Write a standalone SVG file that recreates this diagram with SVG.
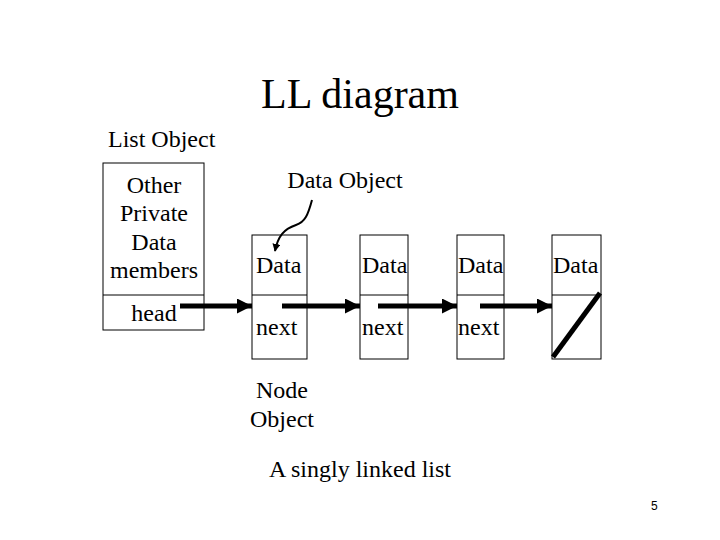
<svg xmlns="http://www.w3.org/2000/svg" width="720" height="540" viewBox="0 0 720 540">
<style>
text{font-family:"Liberation Serif","Times New Roman",serif;fill:#000;font-size:24px}
.c{text-anchor:middle}
.box{fill:#fff;stroke:#000;stroke-width:1}
.arr{stroke:#000;stroke-width:5;fill:none}
</style>
<defs>
<marker id="ah" viewBox="0 0 10 10" refX="10" refY="5" markerWidth="3" markerHeight="3" markerUnits="strokeWidth" orient="auto">
<path d="M0,0 L10,5 L0,10 z" fill="#000"/>
</marker>
<marker id="sm" viewBox="0 0 10 10" refX="9" refY="5" markerWidth="8" markerHeight="8" markerUnits="userSpaceOnUse" orient="auto">
<path d="M0,0 L10,5 L0,10 z" fill="#000"/>
</marker>
</defs>
<rect width="720" height="540" fill="#fff"/>
<text class="c" x="360" y="108" style="font-size:42px">LL diagram</text>
<text x="108" y="147">List Object</text>
<g id="listobj">
<rect class="box" x="103" y="163" width="101" height="167"/>
<line x1="103" y1="295" x2="204" y2="295" stroke="#000"/>
<text class="c" x="154" y="193">Other</text>
<text class="c" x="154" y="221">Private</text>
<text class="c" x="154" y="250">Data</text>
<text class="c" x="154" y="278">members</text>
<text class="c" x="154" y="321">head</text>
</g>
<g id="node1">
<rect class="box" x="252" y="235" width="55" height="124"/>
<line x1="252" y1="295" x2="307" y2="295" stroke="#000"/>
<text x="256" y="273">Data</text>
<text x="256" y="335">next</text>
</g>
<g id="node2">
<rect class="box" x="360" y="235" width="48" height="124"/>
<line x1="360" y1="295" x2="408" y2="295" stroke="#000"/>
<text x="362" y="273">Data</text>
<text x="362" y="335">next</text>
</g>
<g id="node3">
<rect class="box" x="457" y="235" width="47" height="124"/>
<line x1="457" y1="295" x2="504" y2="295" stroke="#000"/>
<text x="458" y="273">Data</text>
<text x="458" y="335">next</text>
</g>
<g id="node4">
<rect class="box" x="552" y="235" width="49" height="124"/>
<line x1="552" y1="295" x2="601" y2="295" stroke="#000"/>
<text x="553" y="273">Data</text>
<line x1="553" y1="357" x2="600" y2="293" stroke="#000" stroke-width="5"/>
</g>
<text class="c" x="345" y="188">Data Object</text>
<text class="c" x="282" y="398">Node</text>
<text class="c" x="282" y="427">Object</text>
<text class="c" x="360" y="477">A singly linked list</text>
<text x="651" y="510" style="font-family:'Liberation Sans',Arial,sans-serif;font-size:12px">5</text>
<g id="connectors">
<line class="arr" x1="180" y1="306" x2="252" y2="306" marker-end="url(#ah)"/>
<line class="arr" x1="282" y1="306" x2="360" y2="306" marker-end="url(#ah)"/>
<line class="arr" x1="378" y1="306" x2="457" y2="306" marker-end="url(#ah)"/>
<line class="arr" x1="480" y1="306" x2="552" y2="306" marker-end="url(#ah)"/>
<path d="M312,200 C308,215 305,222 296,225 C284,229 278,236 275,251" fill="none" stroke="#000" stroke-width="2" marker-end="url(#sm)"/>
</g>
</svg>
